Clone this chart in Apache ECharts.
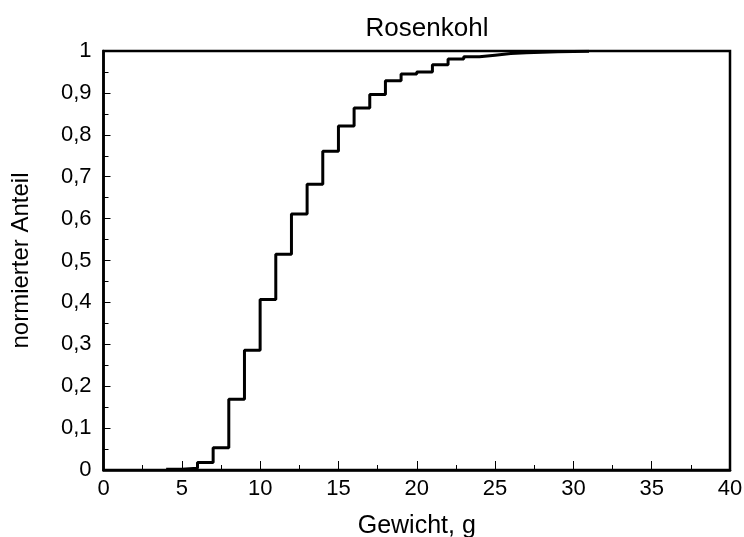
<!DOCTYPE html>
<html>
<head>
<meta charset="utf-8">
<script src="https://cdn.jsdelivr.net/npm/echarts@6/dist/echarts.min.js"></script>
<style>html,body{margin:0;padding:0;background:#fff}#c{width:744px;height:537px}</style>
</head>
<body>
<div id="c"></div>
<script>
var titleText = 'Rosenkohl';
var xName = 'Gewicht, g';
var yName = 'normierter Anteil';
var weights = [4, 5, 6, 7, 8, 9, 10, 11, 12, 13, 14, 15, 16, 17, 18, 19, 20, 21, 22, 23, 24, 25, 26, 27, 28, 29, 30, 31];
var shares = [0.002, 0.004, 0.018, 0.053, 0.169, 0.286, 0.407, 0.515, 0.611, 0.682, 0.761, 0.821, 0.864, 0.896, 0.929, 0.945, 0.950, 0.967, 0.981, 0.986, 0.990, 0.994, 0.996, 0.997, 0.998, 0.999, 0.9995, 1.0];

var data = weights.map(function (w, i) { return [w, shares[i]]; });
var font = 'Liberation Sans, Arial, sans-serif';
var chart = echarts.init(document.getElementById('c'), null, {renderer: 'canvas'});
chart.setOption({
  animation: false,
  backgroundColor: '#fff',
  title: {
    text: titleText, left: 422, top: 11, textAlign: 'center',
    textStyle: {fontFamily: font, fontSize: 26, fontWeight: 'normal', color: '#000'}
  },
  grid: {left: 103.5, right: 14, top: 51, bottom: 67, show: true, borderColor: '#000', borderWidth: 2.5,
    backgroundColor: 'transparent', containLabel: false, outerBoundsMode: 'none'},
  xAxis: {
    type: 'value', min: 0, max: 40, interval: 5,
    name: xName, nameLocation: 'middle', nameGap: 44,
    nameTextStyle: {fontFamily: font, fontSize: 25, color: '#000'},
    axisLine: {show: true, lineStyle: {color: '#000', width: 2.5}},
    axisTick: {show: true, inside: true, length: 9, lineStyle: {color: '#000', width: 1}},
    minorTick: {show: true, splitNumber: 2, length: 5, lineStyle: {color: '#000', width: 1}},
    axisLabel: {fontFamily: font, fontSize: 22, color: '#000', margin: 8},
    splitLine: {show: false}
  },
  yAxis: {
    type: 'value', min: 0, max: 1, interval: 0.1,
    name: yName, nameLocation: 'middle', nameGap: 70,
    nameTextStyle: {fontFamily: font, fontSize: 24, color: '#000'},
    axisLine: {show: true, lineStyle: {color: '#000', width: 2.5}},
    axisTick: {show: true, inside: true, length: 7, lineStyle: {color: '#000', width: 1}},
    minorTick: {show: true, splitNumber: 2, length: 5, lineStyle: {color: '#000', width: 1}},
    axisLabel: {fontFamily: font, fontSize: 22, color: '#000', margin: 12,
      formatter: function (v) { return String(Math.round(v * 10) / 10).replace('.', ','); }},
    splitLine: {show: false}
  },
  series: [{
    type: 'line', step: 'end', data: data, showSymbol: false,
    lineStyle: {color: '#000', width: 3}
  }]
});
</script>
</body>
</html>
